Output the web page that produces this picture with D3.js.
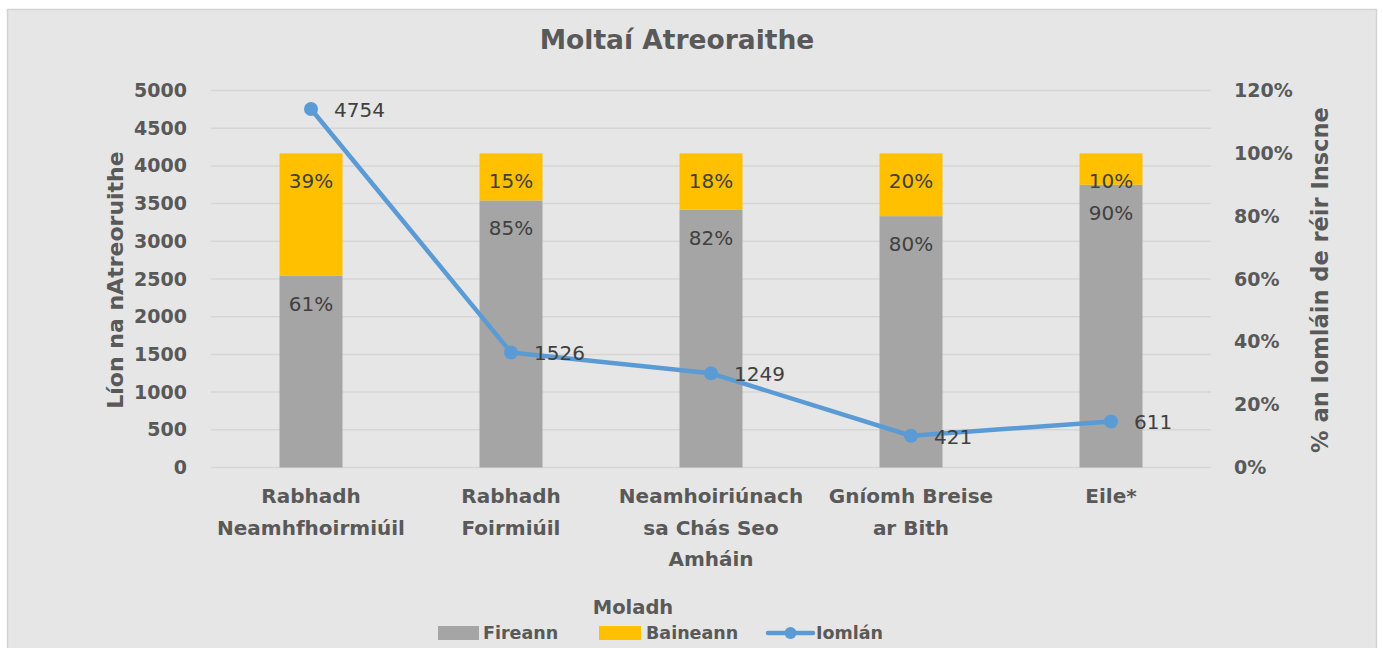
<!DOCTYPE html>
<html><head><meta charset="utf-8">
<script src="https://cdn.jsdelivr.net/npm/d3@7"></script>
<style>html,body{margin:0;padding:0;background:#fff;}svg{display:block;}</style>
</head><body>
<script>
// ---- data ----
const categories = ["Rabhadh Neamhfhoirmiúil", "Rabhadh Foirmiúil", "Neamhoiriúnach sa Chás Seo Amháin", "Gníomh Breise ar Bith", "Eile*"];
const categoryLines = [["Rabhadh","Neamhfhoirmiúil"],["Rabhadh","Foirmiúil"],["Neamhoiriúnach","sa Chás Seo","Amháin"],["Gníomh Breise","ar Bith"],["Eile*"]];
const fireann = [0.61, 0.85, 0.82, 0.80, 0.90];
const baineann = [0.39, 0.15, 0.18, 0.20, 0.10];
const iomlan = [4754, 1526, 1249, 421, 611];
const leftTicks = [0,500,1000,1500,2000,2500,3000,3500,4000,4500,5000];
const rightTicks = [0,0.2,0.4,0.6,0.8,1.0,1.2];
const seriesNames = ["Fireann","Baineann","Iomlán"];
const titleText = "Moltaí Atreoraithe";
const leftTitle = "Líon na nAtreoruithe";
const rightTitle = "% an Iomláin de réir Inscne";
const legendTitle = "Moladh";

const W = 1383, H = 648;
const FONT = "'DejaVu Sans', sans-serif";
const TXT = "#595959", LBL = "#404040";
const GRAY = "#a5a5a5", YEL = "#ffc000", BLUE = "#5b9bd5";

const svg = d3.select("body").append("svg").attr("width", W).attr("height", H);
svg.append("rect").attr("x",0).attr("y",0).attr("width",W).attr("height",H).attr("fill","#fff");
svg.append("rect").attr("x",7.5).attr("y",9.5).attr("width",1369).attr("height",H).attr("fill","#e6e6e6").attr("stroke","#d4d4d4").attr("stroke-width",1.5);

const x = d3.scaleBand().domain(categories).range([211,1211]).paddingInner(0.685).paddingOuter(0.3425);
const yL = d3.scaleLinear().domain([0,5000]).range([467.5,90.5]);
const yR = d3.scaleLinear().domain([0,1.2]).range([467.5,90.5]);

// gridlines
svg.append("g").selectAll("line").data(leftTicks).join("line")
  .attr("x1",211).attr("x2",1211).attr("y1",d=>yL(d)).attr("y2",d=>yL(d))
  .attr("stroke","#d6d6d6").attr("stroke-width",1.5);

// axes
const axL = svg.append("g").attr("transform","translate(211,0)")
  .call(d3.axisLeft(yL).tickValues(leftTicks).tickSize(0).tickPadding(24).tickFormat(d3.format("d")));
const axR = svg.append("g").attr("transform","translate(1211,0)")
  .call(d3.axisRight(yR).tickValues(rightTicks).tickSize(0).tickPadding(23).tickFormat(d3.format(".0%")));
[axL, axR].forEach(a => {
  a.select(".domain").remove();
  a.selectAll("text").attr("fill",TXT).style("font-family",FONT).style("font-weight","bold").style("font-size","19px");
});

// bars
const gBars = svg.append("g");
categories.forEach((c,i) => {
  gBars.append("rect").attr("x",x(c)).attr("width",x.bandwidth())
    .attr("y",yR(fireann[i])).attr("height",yR(0)-yR(fireann[i])).attr("fill",GRAY);
  gBars.append("rect").attr("x",x(c)).attr("width",x.bandwidth())
    .attr("y",yR(fireann[i]+baineann[i])).attr("height",yR(fireann[i])-yR(fireann[i]+baineann[i])).attr("fill",YEL);
  const cx = x(c)+x.bandwidth()/2;
  gBars.append("text").attr("x",cx).attr("y",yR(fireann[i]+baineann[i])+28).attr("dy","0.35em")
    .attr("text-anchor","middle").attr("fill",LBL).style("font-family",FONT).style("font-size","20px")
    .text(d3.format(".0%")(baineann[i]));
  gBars.append("text").attr("x",cx).attr("y",yR(fireann[i])+28).attr("dy","0.35em")
    .attr("text-anchor","middle").attr("fill",LBL).style("font-family",FONT).style("font-size","20px")
    .text(d3.format(".0%")(fireann[i]));
});

// line
const cxs = categories.map(c => x(c)+x.bandwidth()/2);
const line = d3.line().x((d,i)=>cxs[i]).y(d=>yL(d));
svg.append("path").datum(iomlan).attr("d",line).attr("fill","none").attr("stroke",BLUE)
  .attr("stroke-width",4.5).attr("stroke-linejoin","round").attr("stroke-linecap","round");
svg.append("g").selectAll("circle").data(iomlan).join("circle")
  .attr("cx",(d,i)=>cxs[i]).attr("cy",d=>yL(d)).attr("r",7).attr("fill",BLUE);
svg.append("g").selectAll("text").data(iomlan).join("text")
  .attr("x",(d,i)=>cxs[i]+23).attr("y",d=>yL(d)+1).attr("dy","0.35em")
  .attr("fill",LBL).style("font-family",FONT).style("font-size","20px").text(d=>d);

// category labels
categories.forEach((c,i) => {
  const t = svg.append("text").attr("text-anchor","middle").attr("fill",TXT)
    .style("font-family",FONT).style("font-weight","bold").style("font-size","20px");
  categoryLines[i].forEach((ln,j) => {
    t.append("tspan").attr("x",cxs[i]).attr("y",496+j*31.5).attr("dy","0.35em").text(ln);
  });
});

// title
svg.append("text").attr("x",677).attr("y",40).attr("dy","0.35em").attr("text-anchor","middle")
  .attr("fill",TXT).style("font-family",FONT).style("font-weight","bold").style("font-size","26.5px").text(titleText);

// axis titles
svg.append("text").attr("transform","translate(115,280) rotate(-90)").attr("dy","0.35em").attr("text-anchor","middle")
  .attr("fill",TXT).style("font-family",FONT).style("font-weight","bold").style("font-size","22px").text(leftTitle);
svg.append("text").attr("transform","translate(1320,280) rotate(-90)").attr("dy","0.35em").attr("text-anchor","middle")
  .attr("fill",TXT).style("font-family",FONT).style("font-weight","bold").style("font-size","22.5px").text(rightTitle);

// legend
svg.append("text").attr("x",633).attr("y",607).attr("dy","0.35em").attr("text-anchor","middle")
  .attr("fill",TXT).style("font-family",FONT).style("font-weight","bold").style("font-size","19.5px").text(legendTitle);
const lg = svg.append("g");
const legY = 633;
lg.append("rect").attr("x",438).attr("y",legY-7).attr("width",41).attr("height",14).attr("fill",GRAY);
lg.append("text").attr("x",483).attr("y",legY).attr("dy","0.35em").text(seriesNames[0]);
lg.append("rect").attr("x",599).attr("y",legY-7).attr("width",42).attr("height",14).attr("fill",YEL);
lg.append("text").attr("x",646).attr("y",legY).attr("dy","0.35em").text(seriesNames[1]);
lg.append("line").attr("x1",768).attr("x2",813).attr("y1",legY).attr("y2",legY).attr("stroke",BLUE).attr("stroke-width",4.5).attr("stroke-linecap","round");
lg.append("circle").attr("cx",790.5).attr("cy",legY).attr("r",6).attr("fill",BLUE);
lg.append("text").attr("x",816).attr("y",legY).attr("dy","0.35em").text(seriesNames[2]);
lg.selectAll("text").attr("fill",TXT).style("font-family",FONT).style("font-weight","bold").style("font-size","17.5px");
</script>
</body></html>
